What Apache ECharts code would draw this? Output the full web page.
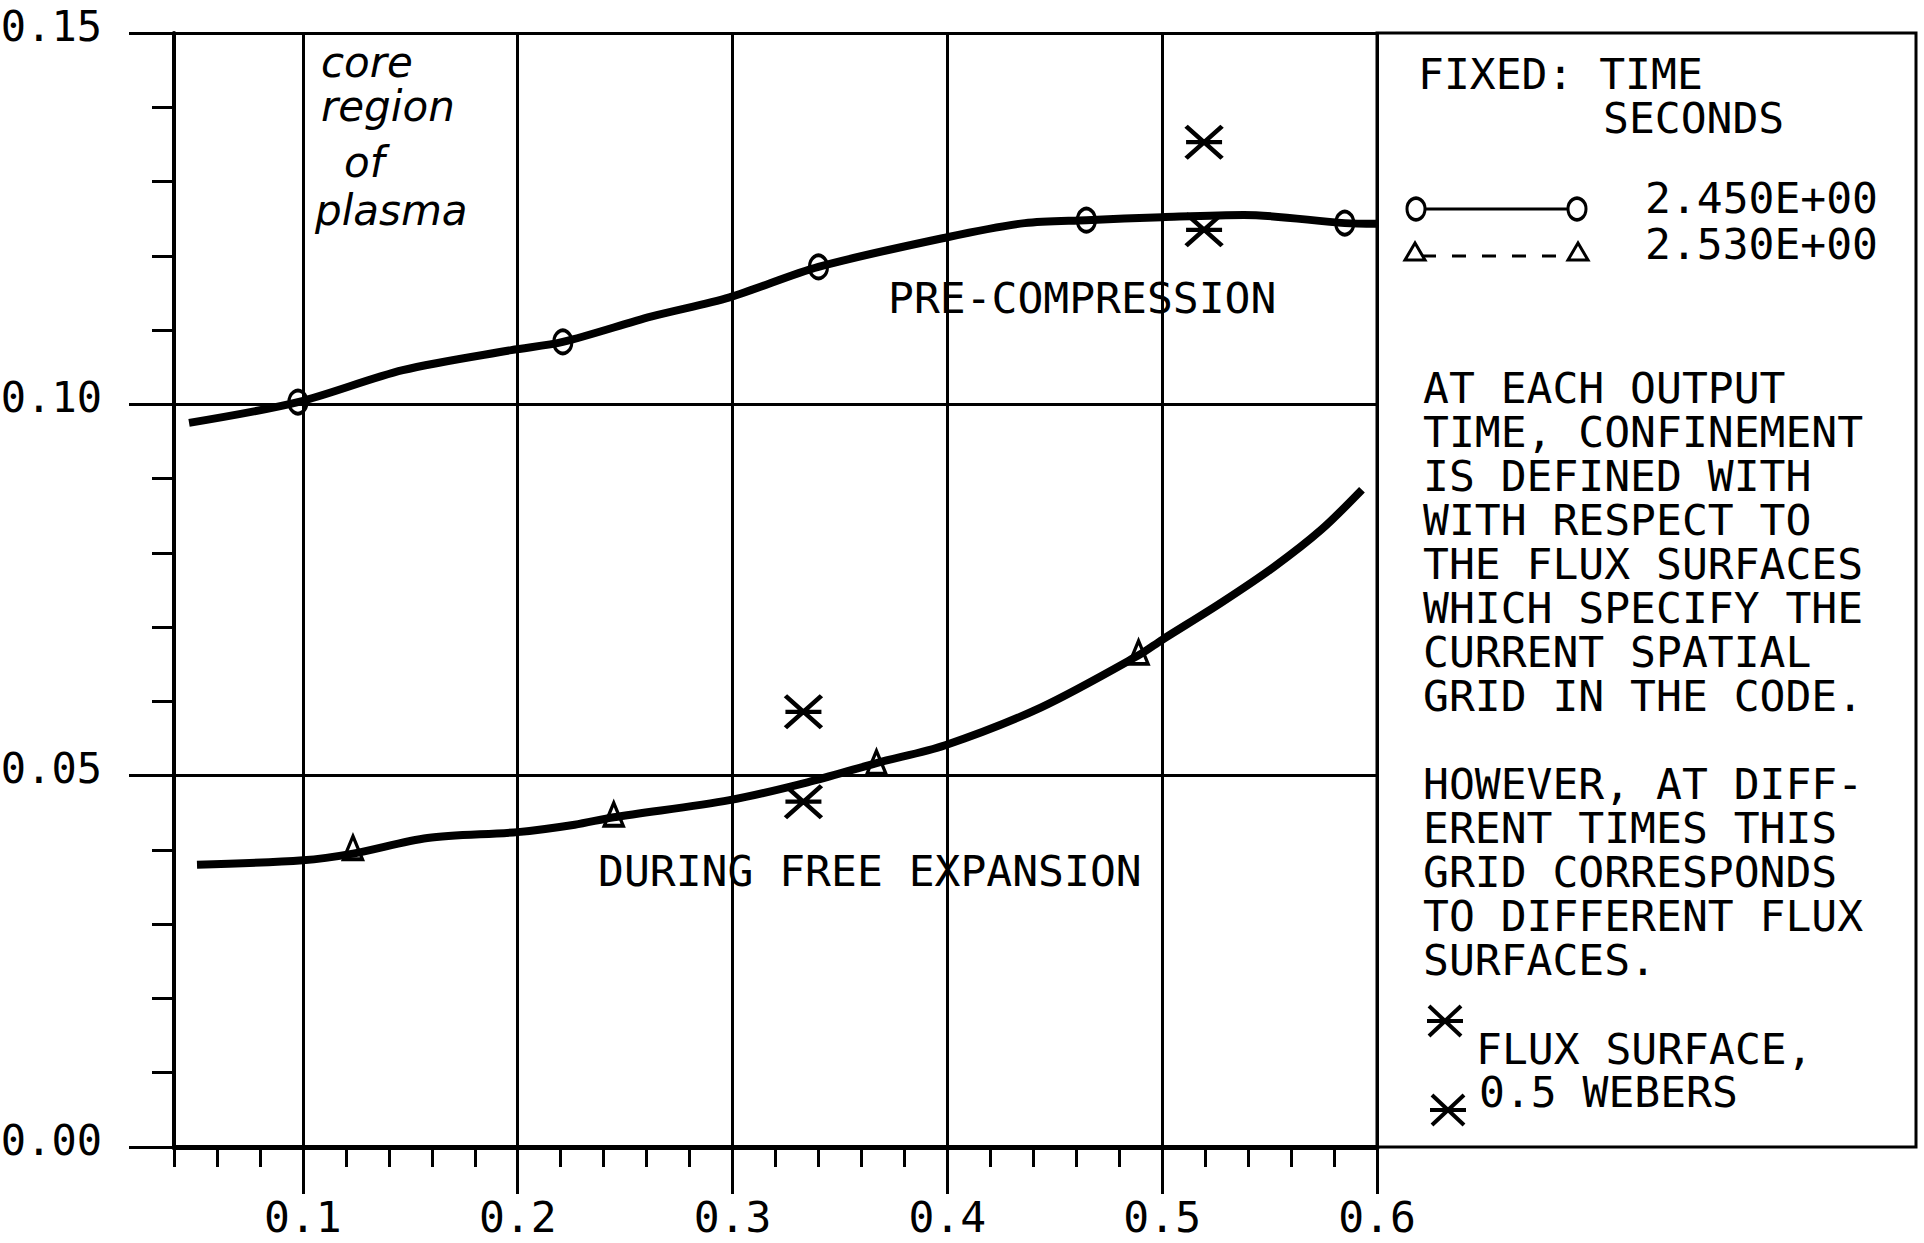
<!DOCTYPE html>
<html>
<head>
<meta charset="utf-8">
<script src="https://cdn.jsdelivr.net/npm/echarts@6/dist/echarts.min.js"></script>
<style>
html,body{margin:0;padding:0;background:#fff;}
#chart{width:1924px;height:1243px;}
</style>
</head>
<body>
<div id="chart"></div>
<script>
// ---- data ----
// pre-compression curve (t = 2.450E+00)
const upperX = [0.047, 0.0977, 0.1465, 0.197, 0.221, 0.262, 0.2986, 0.340, 0.400, 0.436, 0.4647, 0.500, 0.538, 0.585, 0.600];
const upperY = [0.0975, 0.1003, 0.1046, 0.1073, 0.1084, 0.1118, 0.1144, 0.1185, 0.1225, 0.1244, 0.1248, 0.1252, 0.1255, 0.1244, 0.1243];
// circle markers on the upper curve
const circleX = [0.0977, 0.221, 0.340, 0.4647, 0.585];
const circleY = [0.1003, 0.1084, 0.1185, 0.1248, 0.1244];
// free-expansion curve (t = 2.530E+00)
const lowerX = [0.0507, 0.100, 0.1233, 0.158, 0.200, 0.2265, 0.2447, 0.2986, 0.3349, 0.367, 0.399, 0.4437, 0.489, 0.500, 0.527, 0.552, 0.574, 0.593];
const lowerY = [0.0380, 0.0386, 0.0395, 0.0416, 0.0424, 0.0434, 0.0444, 0.0467, 0.0491, 0.0517, 0.0541, 0.0592, 0.0662, 0.0683, 0.0732, 0.0781, 0.0831, 0.0885];
// triangle markers on the lower curve
const triX = [0.1233, 0.2447, 0.367, 0.489];
const triY = [0.0403, 0.0448, 0.0518, 0.0666];
// flux surface 0.5 webers (asterisks)
const fluxX = [0.333, 0.333, 0.5195, 0.5195];
const fluxY = [0.0586, 0.0465, 0.1353, 0.1235];
// ticks
const xMajorTicks = [0.1, 0.2, 0.3, 0.4, 0.5, 0.6];
const xTickLabels = ['0.1', '0.2', '0.3', '0.4', '0.5', '0.6'];
const yTickLabels = ['0.00', '0.05', '0.10', '0.15'];
const legendNames = ['2.450E+00', '2.530E+00'];

const zip = (a, b) => a.map((v, i) => [v, b[i]]);
const MONO = 'DejaVu Sans Mono';
const ASTER = 'path://M0,0L10,10M10,0L0,10M0,5L10,5';
const FS = 43;

const chart = echarts.init(document.getElementById('chart'), null, {renderer: 'svg', width: 1924, height: 1243});

const panelLines = [
  'AT EACH OUTPUT', 'TIME, CONFINEMENT', 'IS DEFINED WITH', 'WITH RESPECT TO',
  'THE FLUX SURFACES', 'WHICH SPECIFY THE', 'CURRENT SPATIAL', 'GRID IN THE CODE.',
  '', 'HOWEVER, AT DIFF-', 'ERENT TIMES THIS', 'GRID CORRESPONDS',
  'TO DIFFERENT FLUX', 'SURFACES.'
];

const txt = (x, y, text, extra) => ({
  type: 'text', x: x, y: y, z: 20,
  style: Object.assign({text: text, fill: '#000', font: FS + 'px "' + MONO + '"', textVerticalAlign: 'middle', lineHeight: 38}, extra || {})
});
const asterisk = (cx, cy) => ([
  {type: 'line', shape: {x1: cx - 16, y1: cy - 15, x2: cx + 16, y2: cy + 15}, style: {stroke: '#000', lineWidth: 4}},
  {type: 'line', shape: {x1: cx + 16, y1: cy - 15, x2: cx - 16, y2: cy + 15}, style: {stroke: '#000', lineWidth: 4}},
  {type: 'line', shape: {x1: cx - 18, y1: cy, x2: cx + 18, y2: cy}, style: {stroke: '#000', lineWidth: 4}}
]);

const graphics = [
  {type: 'rect', shape: {x: 1377, y: 33, width: 539, height: 1114}, style: {fill: 'none', stroke: '#000', lineWidth: 3}, z: 10},
  txt(1418, 74, 'FIXED: TIME'),
  txt(1603, 118, 'SECONDS'),
  {type: 'line', shape: {x1: 1416, y1: 209, x2: 1577, y2: 209}, style: {stroke: '#000', lineWidth: 3}},
  {type: 'circle', x: 1416, y: 209, scaleY: 1.2, shape: {cx: 0, cy: 0, r: 9}, style: {fill: '#fff', stroke: '#000', lineWidth: 3}},
  {type: 'circle', x: 1577, y: 209, scaleY: 1.2, shape: {cx: 0, cy: 0, r: 9}, style: {fill: '#fff', stroke: '#000', lineWidth: 3}},
  txt(1645, 198, legendNames[0]),
  {type: 'line', shape: {x1: 1422, y1: 256, x2: 1570, y2: 256}, style: {stroke: '#000', lineWidth: 3, lineDash: [14, 16]}},
  {type: 'polygon', shape: {points: [[1415, 243], [1405, 260], [1425, 260]]}, style: {fill: '#fff', stroke: '#000', lineWidth: 3}},
  {type: 'polygon', shape: {points: [[1578, 243], [1568, 260], [1588, 260]]}, style: {fill: '#fff', stroke: '#000', lineWidth: 3}},
  txt(1645, 244, legendNames[1]),
  txt(1476, 1049, 'FLUX SURFACE,'),
  txt(1479, 1092, '0.5 WEBERS'),
  txt(888, 298, 'PRE-COMPRESSION'),
  txt(598, 871, 'DURING FREE EXPANSION'),
  txt(321, 62, 'core', {font: 'italic 42px "DejaVu Sans"'}),
  txt(321, 106, 'region', {font: 'italic 42px "DejaVu Sans"'}),
  txt(344, 162, 'of', {font: 'italic 42px "DejaVu Sans"'}),
  txt(315, 210, 'plasma', {font: 'italic 42px "DejaVu Sans"'})
].concat(asterisk(1445, 1021), asterisk(1448, 1110));
panelLines.forEach((s, i) => { if (s) graphics.push(txt(1423, 388 + i * 44, s)); });

const option = {
  animation: false,
  backgroundColor: '#fff',
  grid: {left: 174, top: 33, width: 1203, height: 1114, show: false, containLabel: false, outerBoundsMode: 'none'},
  xAxis: [
    {
      type: 'value', min: 0.04, max: 0.6, interval: 0.02,
      axisLine: {show: true, lineStyle: {color: '#000', width: 5}},
      axisTick: {show: true, length: 20, lineStyle: {color: '#000', width: 3}},
      axisLabel: {show: false},
      splitLine: {show: false}
    },
    {
      type: 'value', min: 0.04, max: 0.6, position: 'bottom', offset: 0,
      axisLine: {show: false},
      axisTick: {show: true, length: 47, customValues: xMajorTicks, lineStyle: {color: '#000', width: 3}},
      axisLabel: {
        show: true, customValues: xMajorTicks, margin: 50, lineHeight: 40,
        fontFamily: MONO, fontSize: FS, color: '#000',
        formatter: v => xTickLabels[xMajorTicks.findIndex(t => Math.abs(t - v) < 1e-9)] || ''
      },
      splitLine: {show: false}
    }
  ],
  yAxis: [
    {
      type: 'value', min: 0, max: 0.15, interval: 0.05,
      axisLine: {show: true, lineStyle: {color: '#000', width: 4}},
      axisTick: {show: true, length: 45, lineStyle: {color: '#000', width: 3}},
      axisLabel: {
        show: true, margin: 72, fontFamily: MONO, fontSize: 42, color: '#000',
        verticalAlign: 'bottom', lineHeight: 14,
        formatter: v => yTickLabels[Math.round(v / 0.05)]
      },
      splitLine: {show: true, lineStyle: {color: '#000', width: 3}}
    },
    {
      type: 'value', min: 0, max: 0.15, interval: 0.01, position: 'left', offset: 0,
      axisLine: {show: false},
      axisTick: {show: true, length: 22, lineStyle: {color: '#000', width: 3}},
      axisLabel: {show: false},
      splitLine: {show: false}
    }
  ],
  series: [
    {
      name: legendNames[0], type: 'line', xAxisIndex: 0, yAxisIndex: 0,
      data: zip(upperX, upperY), smooth: 0.3, showSymbol: false, z: 5,
      lineStyle: {color: '#000', width: 8, opacity: 1},
      markLine: {
        silent: true, symbol: ['none', 'none'], label: {show: false},
        lineStyle: {color: '#000', width: 3, type: 'solid', opacity: 1},
        emphasis: {disabled: true},
        data: xMajorTicks.map(v => ({xAxis: v}))
      }
    },
    {
      name: legendNames[1], type: 'line', xAxisIndex: 0, yAxisIndex: 0,
      data: zip(lowerX, lowerY), smooth: 0.3, showSymbol: false, z: 5,
      lineStyle: {color: '#000', width: 8, opacity: 1}
    },
    {
      name: legendNames[0] + ' points', type: 'scatter', xAxisIndex: 0, yAxisIndex: 0,
      data: zip(circleX, circleY), symbol: 'circle', symbolSize: [18, 23], z: 6,
      itemStyle: {color: 'rgba(0,0,0,0)', borderColor: '#000', borderWidth: 3.5, opacity: 1}
    },
    {
      name: legendNames[1] + ' points', type: 'scatter', xAxisIndex: 0, yAxisIndex: 0,
      data: zip(triX, triY), symbol: 'triangle', symbolSize: [19, 23], z: 6,
      itemStyle: {color: 'rgba(0,0,0,0)', borderColor: '#000', borderWidth: 3.5, opacity: 1}
    },
    {
      name: 'FLUX SURFACE, 0.5 WEBERS', type: 'scatter', xAxisIndex: 0, yAxisIndex: 0,
      data: zip(fluxX, fluxY), symbol: ASTER, symbolSize: [36, 32], z: 7,
      itemStyle: {color: 'rgba(0,0,0,0)', borderColor: '#000', borderWidth: 4.5, opacity: 1}
    }
  ],
  graphic: graphics
};
chart.setOption(option);
</script>
</body>
</html>
